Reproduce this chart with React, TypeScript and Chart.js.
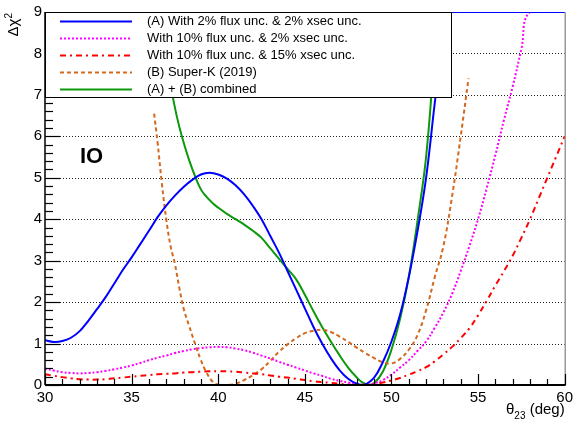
import React, { useEffect, useRef } from "react";
import { Chart, registerables } from "chart.js";

Chart.register(...registerables);

const FONT = '"Liberation Sans", Arial, Helvetica, sans-serif';

// (A) 2% flux & 2% xsec
const blueTheta = [30, 30.5, 31, 31.5, 32, 32.5, 33, 33.5, 34, 34.5, 35, 35.5, 36, 36.5, 37, 37.5, 38, 38.5, 39, 39.5, 40, 40.5, 41, 41.5, 42, 42.5, 43, 43.5, 44, 44.5, 45, 45.5, 46, 46.5, 47, 47.5, 48, 48.4, 49, 49.5, 50, 50.5, 51, 51.5, 52, 52.5, 53, 53.2, 60];
const blueChi2 = [1.08, 1.04, 1.06, 1.14, 1.3, 1.55, 1.83, 2.12, 2.45, 2.78, 3.08, 3.4, 3.72, 4.05, 4.33, 4.57, 4.78, 4.95, 5.08, 5.12, 5.08, 4.98, 4.82, 4.6, 4.32, 4.0, 3.6, 3.2, 2.75, 2.3, 1.85, 1.4, 1.0, 0.65, 0.36, 0.15, 0.03, 0, 0.18, 0.55, 1.05, 1.7, 2.6, 3.7, 5.0, 6.8, 8.5, 9, 9];

// 10% flux & 2% xsec
const magentaTheta = [30, 30.5, 31, 31.5, 32, 32.5, 33, 33.5, 34, 34.5, 35, 35.5, 36, 36.5, 37, 37.5, 38, 38.5, 39, 39.5, 40, 40.5, 41, 41.5, 42, 42.5, 43, 43.5, 44, 44.5, 45, 45.5, 46, 46.5, 47, 47.5, 48, 48.5, 49, 49.5, 50, 50.5, 51, 51.5, 52, 52.5, 53, 53.5, 54, 54.5, 55, 55.5, 56, 56.5, 57, 57.5, 58, 60];
const magentaChi2 = [0.4, 0.35, 0.31, 0.29, 0.28, 0.29, 0.31, 0.34, 0.38, 0.42, 0.47, 0.53, 0.6, 0.66, 0.71, 0.77, 0.82, 0.86, 0.89, 0.91, 0.92, 0.91, 0.88, 0.84, 0.78, 0.71, 0.64, 0.56, 0.49, 0.42, 0.35, 0.28, 0.22, 0.15, 0.1, 0.06, 0.02, 0, 0.04, 0.12, 0.25, 0.42, 0.6, 0.82, 1.05, 1.38, 1.75, 2.2, 2.75, 3.35, 4.0, 4.75, 5.55, 6.4, 7.2, 8.1, 9.0, 9.0];

// 10% flux & 15% xsec
const redTheta = [30, 30.5, 31, 31.5, 32, 32.5, 33, 33.5, 34, 34.5, 35, 35.5, 36, 36.5, 37, 37.5, 38, 38.5, 39, 39.5, 40, 40.5, 41, 41.5, 42, 42.5, 43, 43.5, 44, 44.5, 45, 45.5, 46, 46.5, 47, 47.5, 48, 48.5, 49, 49.5, 50, 50.5, 51, 51.5, 52, 52.5, 53, 53.5, 54, 54.5, 55, 55.5, 56, 56.5, 57, 57.5, 58, 58.5, 59, 59.5, 60];
const redChi2 = [0.26, 0.22, 0.19, 0.16, 0.14, 0.13, 0.13, 0.14, 0.16, 0.18, 0.2, 0.22, 0.24, 0.26, 0.27, 0.28, 0.3, 0.31, 0.32, 0.33, 0.33, 0.33, 0.32, 0.3, 0.28, 0.26, 0.23, 0.2, 0.18, 0.15, 0.12, 0.09, 0.07, 0.05, 0.03, 0.01, 0, 0.01, 0.02, 0.06, 0.11, 0.17, 0.25, 0.33, 0.43, 0.57, 0.74, 0.92, 1.13, 1.37, 1.68, 2.03, 2.4, 2.75, 3.12, 3.55, 4.0, 4.5, 5.0, 5.5, 6.0];

// (B) Super-K (2019)
const orangeTheta = [36.3, 36.5, 36.75, 37.0, 37.25, 37.5, 37.75, 38.0, 38.3, 38.7, 39.0, 39.3, 39.7, 40.0, 40.5, 41.0, 41.5, 42.0, 42.5, 43.0, 43.5, 44.0, 44.5, 45.0, 45.5, 46.0, 46.5, 47.0, 47.5, 48.0, 48.5, 49.0, 49.5, 50.0, 50.5, 51.0, 51.5, 52.0, 52.5, 53.0, 53.5, 54.0, 54.45];
const orangeChi2 = [6.55, 5.85, 4.85, 4.0, 3.35, 2.92, 2.35, 1.85, 1.45, 0.95, 0.6, 0.32, 0.07, 0.01, 0, 0.03, 0.12, 0.24, 0.38, 0.58, 0.8, 0.98, 1.13, 1.25, 1.31, 1.33, 1.28, 1.17, 1.04, 0.9, 0.77, 0.65, 0.55, 0.52, 0.63, 0.85, 1.2, 1.8, 2.6, 3.35, 4.55, 6.0, 7.4];

// (A) + (B) combined
const greenTheta = [36.85, 37, 37.3, 37.6, 37.9, 38.3, 38.7, 39.0, 39.3, 39.7, 40.0, 40.5, 41, 41.5, 42, 42.5, 43, 43.5, 44, 44.5, 45, 45.5, 46, 46.5, 47, 47.5, 48, 48.3, 48.7, 49, 49.5, 50, 50.5, 51, 51.5, 52, 52.5, 52.75];
const greenChi2 = [9, 8.2, 7.15, 6.5, 6.0, 5.45, 5.0, 4.72, 4.55, 4.38, 4.28, 4.13, 4.0, 3.87, 3.72, 3.55, 3.3, 3.05, 2.8, 2.55, 2.18, 1.78, 1.4, 1.05, 0.72, 0.42, 0.18, 0.07, 0, 0.04, 0.32, 0.85, 1.6, 2.6, 3.95, 5.5, 8.0, 9];

const seriesLabels = [
  "(A) With 2% flux unc. & 2% xsec unc.",
  "With 10% flux unc. & 2% xsec unc.",
  "With 10% flux unc. & 15% xsec unc.",
  "(B) Super-K (2019)",
  "(A) + (B) combined",
];

const xRange = [30, 60];
const yRange = [0, 9];
const xMajorStep = 5;
const xMinorStep = 1;
const yMajorStep = 1;
const yMinorStep = 0.2;

const LEGEND_W = 406;
const LEGEND_H = 85;

const pts = (xs: number[], ys: number[]) => xs.map((x, i) => ({ x, y: ys[i] }));

// ROOT-style frame: dotted y grid, inward tick marks, opaque legend box, titles
const rootFrame = {
  id: "rootFrame",
  beforeDatasetsDraw(chart: any) {
    const { ctx, chartArea: a, scales } = chart;
    const y = scales.y;
    ctx.save();
    ctx.strokeStyle = "#222";
    ctx.lineWidth = 1;
    ctx.setLineDash([1, 2]);
    for (let v = yRange[0] + yMajorStep; v <= yRange[1] + 1e-9; v += yMajorStep) {
      const py = Math.round(y.getPixelForValue(v)) + 0.5;
      ctx.beginPath();
      ctx.moveTo(a.left, py);
      ctx.lineTo(a.right, py);
      ctx.stroke();
    }
    ctx.setLineDash([]);
    ctx.strokeStyle = "#666";
    ctx.beginPath();
    ctx.moveTo(a.left, a.top + 0.5);
    ctx.lineTo(a.right + 0.5, a.top + 0.5);
    ctx.lineTo(a.right + 0.5, a.bottom);
    ctx.stroke();
    ctx.restore();
  },
  afterDatasetsDraw(chart: any) {
    const { ctx, chartArea: a } = chart;
    ctx.save();
    ctx.setLineDash([]);
    ctx.fillStyle = "#fff";
    ctx.fillRect(a.left, a.top, LEGEND_W, LEGEND_H);
    ctx.strokeStyle = "#000";
    ctx.lineWidth = 1;
    ctx.strokeRect(a.left + 0.5, a.top + 0.5, LEGEND_W, LEGEND_H);
    ctx.font = `13px ${FONT}`;
    ctx.textBaseline = "middle";
    ctx.textAlign = "left";
    chart.data.datasets.forEach((ds: any, i: number) => {
      const ry = a.top + 9.5 + i * 17;
      ctx.strokeStyle = ds.borderColor;
      ctx.lineWidth = ds.borderWidth;
      ctx.setLineDash(ds.borderDash || []);
      ctx.beginPath();
      ctx.moveTo(a.left + 15, ry);
      ctx.lineTo(a.left + 87, ry);
      ctx.stroke();
      ctx.setLineDash([]);
      ctx.fillStyle = "#000";
      ctx.fillText(ds.label, a.left + 102, ry);
    });
    ctx.restore();
  },
  afterDraw(chart: any) {
    const { ctx, chartArea: a, scales } = chart;
    const x = scales.x;
    const y = scales.y;
    ctx.save();
    ctx.setLineDash([]);
    ctx.strokeStyle = "#000";

    // axis lines
    ctx.lineWidth = 1.5;
    ctx.beginPath();
    ctx.moveTo(a.left, a.top);
    ctx.lineTo(a.left, a.bottom);
    ctx.stroke();
    ctx.lineWidth = 2;
    ctx.beginPath();
    ctx.moveTo(a.left, a.bottom);
    ctx.lineTo(a.right + 1, a.bottom);
    ctx.stroke();

    // x ticks pointing into the frame
    ctx.lineWidth = 1.2;
    const nx = Math.round((xRange[1] - xRange[0]) / xMinorStep);
    const xPer = Math.round(xMajorStep / xMinorStep);
    for (let i = 0; i <= nx; i++) {
      const v = xRange[0] + i * xMinorStep;
      const px = Math.round(x.getPixelForValue(v)) + 0.5;
      const len = i % xPer === 0 ? 11 : 6;
      ctx.beginPath();
      ctx.moveTo(px, a.bottom);
      ctx.lineTo(px, a.bottom - len);
      ctx.stroke();
    }
    // y ticks pointing into the frame (none under the legend box)
    const ny = Math.round((yRange[1] - yRange[0]) / yMinorStep);
    const yPer = Math.round(yMajorStep / yMinorStep);
    for (let i = 0; i <= ny; i++) {
      const v = yRange[0] + i * yMinorStep;
      const py = Math.round(y.getPixelForValue(v)) + 0.5;
      if (py < a.top + LEGEND_H) continue;
      const len = i % yPer === 0 ? 15 : 8;
      ctx.beginPath();
      ctx.moveTo(a.left, py);
      ctx.lineTo(a.left + len, py);
      ctx.stroke();
    }

    // region label
    ctx.fillStyle = "#000";
    ctx.font = `bold 22px ${FONT}`;
    ctx.textAlign = "left";
    ctx.textBaseline = "alphabetic";
    ctx.fillText("IO", a.left + 35, 163);

    // x title: θ23 (deg)
    ctx.font = `15px ${FONT}`;
    const wa = ctx.measureText("θ").width;
    const wc = ctx.measureText(" (deg)").width;
    ctx.font = `10px ${FONT}`;
    const wb = ctx.measureText("23").width;
    const x0 = a.right - (wa + wb + wc);
    const base = a.bottom + 29;
    ctx.font = `15px ${FONT}`;
    ctx.fillText("θ", x0, base);
    ctx.font = `10px ${FONT}`;
    ctx.fillText("23", x0 + wa, base + 5);
    ctx.font = `15px ${FONT}`;
    ctx.fillText(" (deg)", x0 + wa + wb, base);

    // y title: Δχ²
    ctx.translate(18, a.top + 1);
    ctx.rotate(-Math.PI / 2);
    ctx.font = `15px ${FONT}`;
    const w1 = ctx.measureText("Δχ").width;
    ctx.font = `10px ${FONT}`;
    const w2 = ctx.measureText("2").width;
    ctx.font = `15px ${FONT}`;
    ctx.fillText("Δχ", -(w1 + w2), 0);
    ctx.font = `10px ${FONT}`;
    ctx.fillText("2", -w2, -6);

    ctx.restore();
  },
};

export default function App() {
  const ref = useRef<HTMLCanvasElement>(null);

  useEffect(() => {
    if (!ref.current) return;
    const line = (label: string, xs: number[], ys: number[], color: string, dash: number[]) => ({
      label,
      data: pts(xs, ys),
      borderColor: color,
      backgroundColor: color,
      borderWidth: 2,
      borderDash: dash,
      pointRadius: 0,
      fill: false,
      tension: 0.4,
    });
    const chart = new Chart(ref.current, {
      type: "line",
      data: {
        datasets: [
          line(seriesLabels[0], blueTheta, blueChi2, "#0000ff", []),
          line(seriesLabels[1], magentaTheta, magentaChi2, "#ff00ff", [2, 2]),
          line(seriesLabels[2], redTheta, redChi2, "#ff0000", [6, 4, 2, 4]),
          line(seriesLabels[3], orangeTheta, orangeChi2, "#d2691e", [4, 3]),
          line(seriesLabels[4], greenTheta, greenChi2, "#0c990c", []),
        ],
      },
      options: {
        animation: false,
        responsive: false,
        devicePixelRatio: 1,
        layout: { padding: { left: 8, right: 10, top: 9, bottom: 9 } },
        plugins: { legend: { display: false }, tooltip: { enabled: false } },
        scales: {
          x: {
            type: "linear",
            min: xRange[0],
            max: xRange[1],
            afterFit: (s: any) => {
              s.height = 30;
            },
            grid: { display: false, drawTicks: false },
            border: { display: false },
            ticks: {
              stepSize: xMajorStep,
              color: "#000",
              padding: 4,
              maxRotation: 0,
              font: { family: FONT, size: 15 },
            },
          },
          y: {
            type: "linear",
            min: yRange[0],
            max: yRange[1],
            afterFit: (s: any) => {
              s.width = 37;
            },
            grid: { display: false, drawTicks: false },
            border: { display: false },
            ticks: {
              stepSize: yMajorStep,
              color: "#000",
              padding: 3,
              font: { family: FONT, size: 15 },
            },
          },
        },
      },
      plugins: [rootFrame],
    });
    return () => chart.destroy();
  }, []);

  return (
    <div style={{ position: "fixed", left: 0, top: 0, width: 577, height: 424, background: "#fff" }}>
      <canvas ref={ref} width={577} height={424} style={{ display: "block" }} />
    </div>
  );
}
